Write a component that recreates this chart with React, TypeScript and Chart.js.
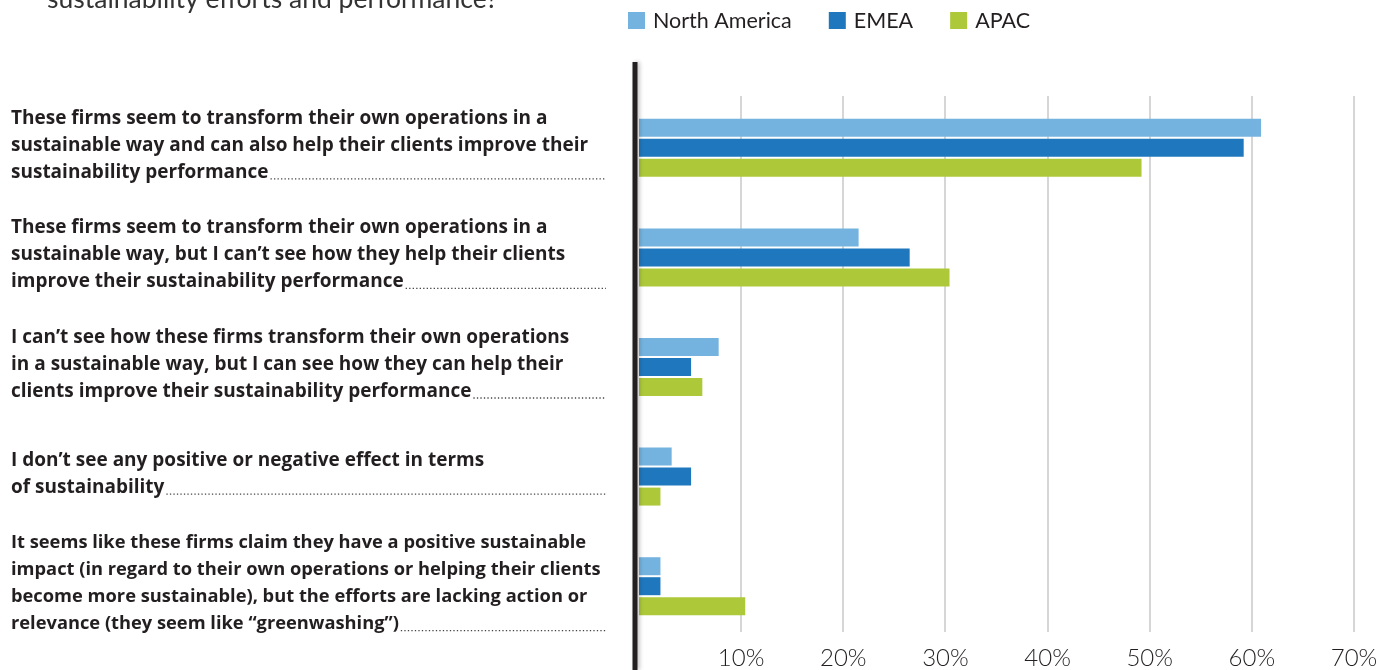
import React, { useEffect, useRef } from 'react';
import { Chart, registerables } from 'chart.js';

Chart.register(...registerables);

const questionTail = 'sustainability efforts and performance?';

const categories: string[][] = [
  [
    'These firms seem to transform their own operations in a',
    'sustainable way and can also help their clients improve their',
    'sustainability performance',
  ],
  [
    'These firms seem to transform their own operations in a',
    'sustainable way, but I can’t see how they help their clients',
    'improve their sustainability performance',
  ],
  [
    'I can’t see how these firms transform their own operations',
    'in a sustainable way, but I can see how they can help their',
    'clients improve their sustainability performance',
  ],
  ['I don’t see any positive or negative effect in terms', 'of sustainability'],
  [
    'It seems like these firms claim they have a positive sustainable',
    'impact (in regard to their own operations or helping their clients',
    'become more sustainable), but the efforts are lacking action or',
    'relevance (they seem like “greenwashing”)',
  ],
];

const seriesNames = ['North America', 'EMEA', 'APAC'];
const northAmerica = [60.9, 21.5, 7.8, 3.2, 2.1];
const emea = [59.2, 26.5, 5.1, 5.1, 2.1];
const apac = [49.2, 30.4, 6.2, 2.1, 10.4];
const seriesColors = ['#74b3e0', '#1f78bd', '#adc93a'];
const xTickValues = [10, 20, 30, 40, 50, 60, 70];

const TEXT = '#231f20';
const LABEL_FONT_FAMILY = "'Open Sans', sans-serif";
// the last answer is set slightly tighter in the original
const labelFontSizes = [19, 19, 19, 19, 18.3];
const LABEL_LINE = 27;
const LABEL_OFFSET = -2.5;

const headerPlugin = {
  id: 'headerText',
  afterDraw(chart: any) {
    const ctx = chart.ctx;
    ctx.save();
    ctx.font = "400 26.5px Lato, sans-serif";
    ctx.fillStyle = '#333333';
    ctx.textBaseline = 'alphabetic';
    ctx.textAlign = 'left';
    ctx.fillText(questionTail, 47, 7.5);
    ctx.restore();
  },
};

const legendPlugin = {
  id: 'squareLegend',
  afterDraw(chart: any) {
    const ctx = chart.ctx;
    ctx.save();
    ctx.font = "400 21.5px Lato, sans-serif";
    ctx.textBaseline = 'middle';
    ctx.textAlign = 'left';
    let x = 628;
    chart.data.datasets.forEach((ds: any) => {
      ctx.fillStyle = ds.backgroundColor;
      ctx.fillRect(x, 12, 17, 17);
      ctx.fillStyle = TEXT;
      ctx.fillText(ds.label, x + 25, 21);
      x += 25 + ctx.measureText(ds.label).width + 37;
    });
    ctx.restore();
  },
};

const gridPlugin = {
  id: 'customGrid',
  beforeDatasetsDraw(chart: any) {
    const ctx = chart.ctx;
    const xs = chart.scales.x;
    const area = chart.chartArea;
    ctx.save();
    ctx.strokeStyle = '#d6d6d6';
    ctx.lineWidth = 2;
    xTickValues.forEach((v) => {
      const x = Math.round(xs.getPixelForValue(v));
      ctx.beginPath();
      ctx.moveTo(x, area.top + 3);
      ctx.lineTo(x, area.bottom - 9);
      ctx.stroke();
    });
    ctx.restore();
  },
};

const axisLinePlugin = {
  id: 'axisLine',
  afterDatasetsDraw(chart: any) {
    const ctx = chart.ctx;
    const xs = chart.scales.x;
    const x0 = xs.getPixelForValue(0) - 4;
    ctx.save();
    ctx.shadowColor = 'rgba(0,0,0,0.25)';
    ctx.shadowBlur = 4;
    ctx.shadowOffsetX = 2;
    ctx.fillStyle = TEXT;
    ctx.fillRect(x0 - 2.5, 62, 5, chart.height - 62);
    ctx.restore();
  },
};

const leaderPlugin = {
  id: 'leaders',
  afterDraw(chart: any) {
    const ctx = chart.ctx;
    const ys = chart.scales.y;
    ctx.save();
    ctx.strokeStyle = '#444444';
    ctx.lineWidth = 1.3;
    ctx.setLineDash([1.3, 2.2]);
    categories.forEach((lines, i) => {
      ctx.font = `700 ${labelFontSizes[i]}px ${LABEL_FONT_FAMILY}`;
      const n = lines.length;
      const center = ys.getPixelForValue(i) + LABEL_OFFSET;
      const lastY = center + ((n - 1) / 2) * LABEL_LINE + 6.5;
      const startX = ys.left + ctx.measureText(lines[n - 1]).width + 2;
      ctx.beginPath();
      ctx.moveTo(startX, lastY);
      ctx.lineTo(606, lastY);
      ctx.stroke();
    });
    ctx.restore();
  },
};

export default function App() {
  const canvasRef = useRef<HTMLCanvasElement | null>(null);

  useEffect(() => {
    if (!canvasRef.current) return;
    const seriesValues = [northAmerica, emea, apac];
    const chart = new Chart(canvasRef.current, {
      type: 'bar',
      data: {
        labels: categories,
        datasets: seriesNames.map((name, i) => ({
          label: name,
          data: seriesValues[i],
          backgroundColor: seriesColors[i],
          borderWidth: 0,
          categoryPercentage: 0.547,
          barPercentage: 0.9,
        })),
      },
      options: {
        indexAxis: 'y',
        animation: false,
        responsive: true,
        maintainAspectRatio: false,
        layout: { padding: { top: 93, left: 11, right: 28, bottom: 0 } },
        plugins: {
          legend: { display: false },
          tooltip: { enabled: false },
          title: { display: false },
        },
        scales: {
          x: {
            type: 'linear',
            min: 0,
            max: 70,
            grid: { display: false, drawTicks: false },
            border: { display: false },
            afterFit: (s: any) => {
              s.height = 29;
              s.paddingLeft = 0;
              s.paddingRight = 0;
            },
            ticks: {
              stepSize: 10,
              maxRotation: 0,
              padding: 5,
              color: TEXT,
              font: { family: 'Lato, sans-serif', size: 24, weight: '300', lineHeight: 1 },
              callback: (v: any) => (Number(v) === 0 ? '' : `${v}%`),
            },
          },
          y: {
            type: 'category',
            grid: { display: false, drawTicks: false },
            border: { display: false },
            afterFit: (s: any) => {
              s.width = 628;
              s.paddingTop = 0;
              s.paddingBottom = 0;
            },
            ticks: {
              autoSkip: false,
              crossAlign: 'far',
              padding: 0,
              labelOffset: LABEL_OFFSET,
              color: TEXT,
              font: (c: any) => {
                const size = labelFontSizes[c.index] ?? 19;
                return {
                  family: LABEL_FONT_FAMILY,
                  size,
                  weight: '700',
                  lineHeight: LABEL_LINE / size,
                };
              },
            },
          },
        },
      },
      plugins: [headerPlugin, legendPlugin, gridPlugin, axisLinePlugin, leaderPlugin],
    } as any);
    return () => chart.destroy();
  }, []);

  return (
    <div style={{ position: 'fixed', left: 0, top: 0, width: 1382, height: 670, background: '#ffffff' }}>
      <canvas ref={canvasRef} />
    </div>
  );
}
